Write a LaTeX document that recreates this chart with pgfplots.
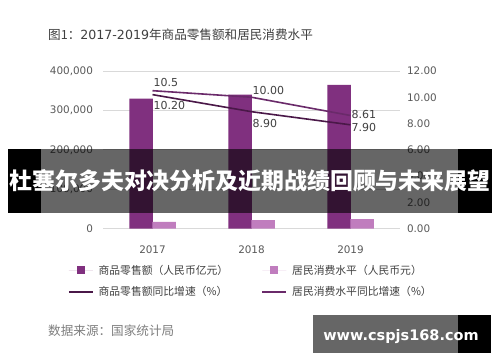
\documentclass[border=0pt]{standalone}
\usepackage{pgfplots}
\pgfplotsset{compat=1.18}
\usepackage{pgfplotstable}
\usepackage{fontspec}
\setmainfont{DejaVu Sans}
\newfontfamily\cjk{Noto Sans CJK SC}
\definecolor{barDark}{HTML}{80307F}
\definecolor{barLight}{HTML}{C07DBE}
\definecolor{lineDark}{HTML}{4A1848}
\definecolor{lineMid}{HTML}{6A2A6A}
\definecolor{tickgray}{HTML}{595959}
\definecolor{textgray}{HTML}{404040}
\definecolor{srcgray}{HTML}{7F7F7F}
\definecolor{gridgray}{HTML}{D9D9D9}
\tikzset{lbl/.style={anchor=west, inner sep=0.5pt, xshift=0.5pt, font=\fontsize{11}{13}\selectfont, text=textgray}}

\pgfplotstableread{
x value
0 330000
1 340000
2 365000
}\retail
\pgfplotstableread{
x value
0 17000
1 21000
2 23500
}\consumption
\pgfplotstableread{
x value
0 10.20
1 8.90
2 7.90
}\retailgrowth
\pgfplotstableread{
x value
0 10.5
1 10.00
2 8.61
}\consumptiongrowth

\begin{document}
\begin{tikzpicture}
\fill[white] (0,0) rectangle (500pt,362pt);
\path[use as bounding box] (0,0) rectangle (500pt,362pt);
\node[anchor=west, text=textgray, font=\fontsize{12.6}{15}\selectfont, inner sep=0pt] at (48pt,327pt) {{\cjk 图1：}2017-2019{\cjk 年商品零售额和居民消费水平}};

\begin{axis}[
 scale only axis, width=297pt, height=157.5pt,
 at={(103pt,133.5pt)}, anchor=south west,
 xmin=-0.5, xmax=2.5, ymin=0, ymax=400000,
 xtick={0,1,2}, xticklabels={2017,2018,2019},
 ytick={0,100000,200000,300000,400000},
 scaled y ticks=false,
 /pgf/number format/fixed,
 /pgf/number format/1000 sep={,},
 /pgf/number format/assume math mode=true,
 ticklabel style={font=\fontsize{10.4}{12}\selectfont, text=tickgray},
 yticklabel style={xshift=-6.5pt},
 xticklabel style={yshift=-9.2pt},
 axis line style={draw=none}, major tick style={draw=none},
 ymajorgrids, grid style={gridgray, line width=0.8pt},
 ybar, bar width=23.5pt,
 clip=false,
 legend columns=2, legend cell align=left,
 legend style={at={(-0.1178,-0.2317)}, anchor=north west, draw=none, fill=none,
   inner sep=0pt, outer sep=0pt, font=\cjk\fontsize{10.8}{13}\selectfont, text=textgray,
   column sep=5pt, row sep=11pt,
   /tikz/every even column/.append style={column sep=33.4pt},
   nodes={inner sep=0pt}},
]
\addplot[fill=barDark, draw=none, bar shift=-11.5pt,
  legend image code/.code={\path (0pt,0pt) -- (24pt,0pt); \fill[barDark] (8pt,-4pt) rectangle (16pt,4pt);}]
  table[x=x,y=value]{\retail};
\addlegendentry{商品零售额（人民币亿元）}
\addplot[fill=barLight, draw=none, bar shift=11.5pt,
  legend image code/.code={\path (0pt,0pt) -- (24pt,0pt); \fill[barLight] (8pt,-4pt) rectangle (16pt,4pt);}]
  table[x=x,y=value]{\consumption};
\addlegendentry{居民消费水平（人民币元）}
\addlegendimage{legend image code/.code={\draw[lineDark, line width=1.6pt] (0pt,0pt) -- (24pt,0pt);}}
\addlegendentry{商品零售额同比增速（\%）}
\addlegendimage{legend image code/.code={\draw[lineMid, line width=1.6pt] (0pt,0pt) -- (24pt,0pt);}}
\addlegendentry{居民消费水平同比增速（\%）}
\end{axis}

\begin{axis}[
 scale only axis, width=297pt, height=157.5pt,
 at={(103pt,133.5pt)}, anchor=south west,
 xmin=-0.5, xmax=2.5, ymin=0, ymax=12,
 ytick={0,2,4,6,8,10,12},
 axis y line*=right, axis x line=none,
 /pgf/number format/fixed,
 /pgf/number format/fixed zerofill,
 /pgf/number format/precision=2,
 /pgf/number format/assume math mode=true,
 ticklabel style={font=\fontsize{10.4}{12}\selectfont, text=tickgray},
 yticklabel style={xshift=3.5pt},
 axis line style={draw=none}, major tick style={draw=none},
 clip=false,
]
\addplot[lineDark, line width=1.6pt, mark=none] table[x=x,y=value]{\retailgrowth};
\addplot[lineMid, line width=1.6pt, mark=none] table[x=x,y=value]{\consumptiongrowth};
\node[lbl, yshift=-10.4pt] at (axis cs:0,10.20) {10.20};
\node[lbl, yshift=-11.9pt] at (axis cs:1,8.90) {8.90};
\node[lbl, yshift=-2.3pt] at (axis cs:2,7.90) {7.90};
\node[lbl, yshift=8.2pt] at (axis cs:0,10.5) {10.5};
\node[lbl, yshift=7.2pt] at (axis cs:1,10.00) {10.00};
\node[lbl, yshift=0.9pt] at (axis cs:2,8.61) {8.61};
\end{axis}

\node[anchor=west, text=srcgray, font=\cjk\fontsize{12.6}{15}\selectfont, inner sep=0pt] at (48pt,31pt) {数据来源：国家统计局};

\fill[black] (8pt,149pt) rectangle (41pt,213pt);
\fill[black] (458pt,149pt) rectangle (492pt,213pt);
\fill[black, fill opacity=0.6] (41pt,149pt) rectangle (458pt,213pt);
\node[text=white, font=\cjk\bfseries\fontsize{22.9}{26}\selectfont, inner sep=0pt] at (250pt,181pt) {杜塞尔多夫对决分析及近期战绩回顾与未来展望};

\fill[black, fill opacity=0.6] (313pt,9pt) rectangle (458pt,47pt);
\fill[black] (458pt,9pt) rectangle (491pt,47pt);
\node[text=white, font=\bfseries\fontsize{14.5}{17}\selectfont, inner sep=0pt] at (401pt,25pt) {www.cspjs168.com};
\end{tikzpicture}
\end{document}
